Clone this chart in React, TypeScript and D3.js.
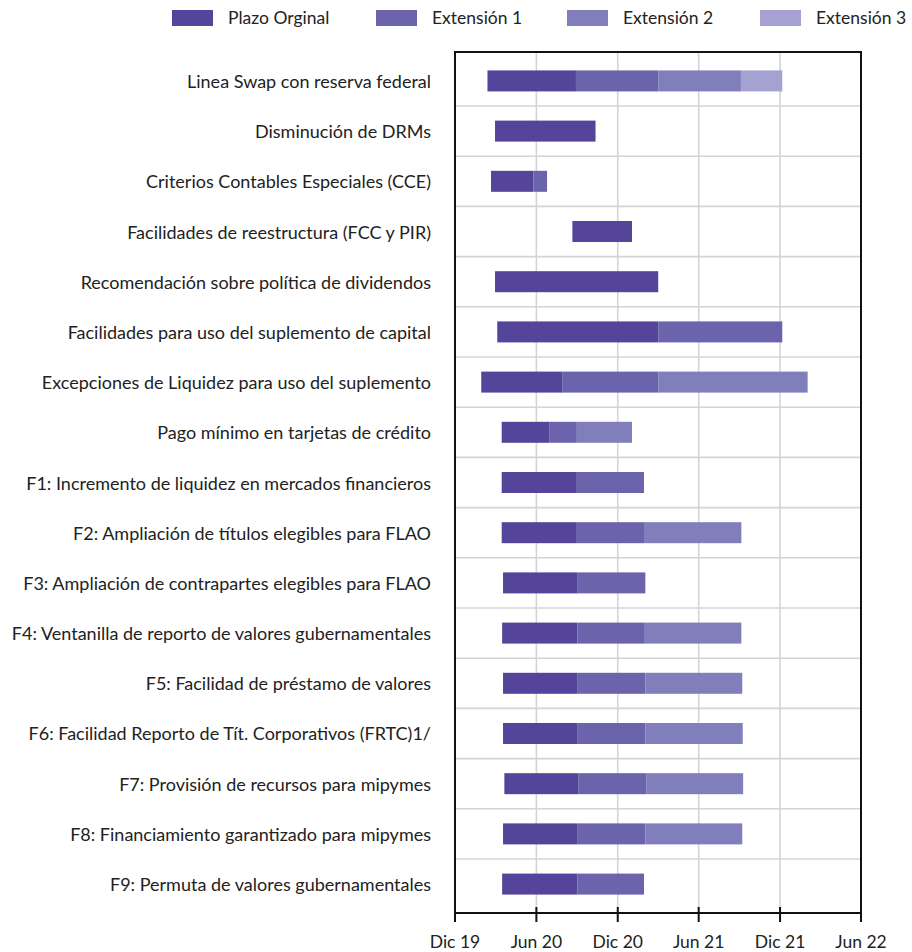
import React from "react";
import * as d3 from "d3";

const categories = [
  "Linea Swap con reserva federal",
  "Disminución de DRMs",
  "Criterios Contables Especiales (CCE)",
  "Facilidades de reestructura (FCC y PIR)",
  "Recomendación sobre política de dividendos",
  "Facilidades para uso del suplemento de capital",
  "Excepciones de Liquidez para uso del suplemento",
  "Pago mínimo en tarjetas de crédito",
  "F1: Incremento de liquidez en mercados financieros",
  "F2: Ampliación de títulos elegibles para FLAO",
  "F3: Ampliación de contrapartes elegibles para FLAO",
  "F4: Ventanilla de reporto de valores gubernamentales",
  "F5: Facilidad de préstamo de valores",
  "F6: Facilidad Reporto de Tít. Corporativos (FRTC)1/",
  "F7: Provisión de recursos para mipymes",
  "F8: Financiamiento garantizado para mipymes",
  "F9: Permuta de valores gubernamentales",
];

// inicio de cada medida
const startDates = [
  "2020-02-12", "2020-02-29", "2020-02-20", "2020-08-21", "2020-02-29",
  "2020-03-05", "2020-01-29", "2020-03-15", "2020-03-15", "2020-03-15",
  "2020-03-18", "2020-03-16", "2020-03-18", "2020-03-18", "2020-03-21",
  "2020-03-18", "2020-03-16",
];

// fin del plazo original
const originalEnd = [
  "2020-08-29", "2020-10-12", "2020-05-25", "2021-01-02", "2021-03-02",
  "2021-03-02", "2020-07-29", "2020-07-01", "2020-08-31", "2020-08-31",
  "2020-09-02", "2020-09-01", "2020-09-02", "2020-09-02", "2020-09-04",
  "2020-09-02", "2020-09-01",
];

// fin de cada extensión (null = sin extensión)
const ext1End = [
  "2021-03-02", null, "2020-06-25", null, null,
  "2021-12-06", "2021-03-02", "2020-08-31", "2021-01-29", "2021-01-29",
  "2021-02-01", "2021-01-29", "2021-02-01", "2021-02-01", "2021-02-03",
  "2021-02-01", "2021-01-29",
];

const ext2End = [
  "2021-09-04", null, null, null, null,
  null, "2022-02-01", "2021-01-02", null, "2021-09-05",
  null, "2021-09-05", "2021-09-07", "2021-09-08", "2021-09-09",
  "2021-09-07", null,
];

const ext3End = [
  "2021-12-06", null, null, null, null,
  null, null, null, null, null,
  null, null, null, null, null,
  null, null,
];

const seriesNames = ["Plazo Orginal", "Extensión 1", "Extensión 2", "Extensión 3"];
const seriesColors = ["#54459a", "#6b63ab", "#807ebb", "#a5a1d0"];

const tickDates = ["2019-12-01", "2020-06-01", "2020-12-01", "2021-06-01", "2021-12-01", "2022-06-01"];
const tickLabels = ["Dic 19", "Jun 20", "Dic 20", "Jun 21", "Dic 21", "Jun 22"];

const legendX = [172, 376, 567, 760];

const parse = d3.utcParse("%Y-%m-%d");
const FONT = "Lato, 'Open Sans', sans-serif";

export default function App() {
  const width = 912;
  const height = 952;
  const plot = { left: 455, right: 861, top: 52, bottom: 913 };

  const x = d3
    .scaleUtc()
    .domain([parse(tickDates[0])!, parse(tickDates[tickDates.length - 1])!])
    .range([plot.left, plot.right]);

  const y = d3
    .scaleBand()
    .domain(categories)
    .range([plot.top, plot.bottom])
    .paddingInner(0)
    .paddingOuter(0.076);

  const barH = 21;

  const segments = categories.flatMap((c, i) => {
    const bounds = [startDates[i], originalEnd[i], ext1End[i], ext2End[i], ext3End[i]];
    const out: { cat: string; s: number; x0: Date; x1: Date }[] = [];
    for (let s = 0; s < 4; s++) {
      const a = bounds[s];
      const b = bounds[s + 1];
      if (a && b) out.push({ cat: c, s, x0: parse(a)!, x1: parse(b)! });
    }
    return out;
  });

  return (
    <div style={{ position: "absolute", left: 0, top: 0 }}>
      <svg width={width} height={height} style={{ display: "block", background: "#fff" }} fontFamily={FONT}>
        {/* Legend */}
        {seriesNames.map((name, i) => (
          <g key={name} transform={`translate(${legendX[i]},10)`}>
            <rect width={41} height={16} fill={seriesColors[i]} />
            <text x={56} y={14} fontSize={17.5} fill="#222">
              {name}
            </text>
          </g>
        ))}

        {/* Grid */}
        {tickDates.slice(1, -1).map((t) => (
          <line
            key={t}
            x1={x(parse(t)!)}
            x2={x(parse(t)!)}
            y1={plot.top}
            y2={plot.bottom}
            stroke="#d4d4d4"
            strokeWidth={1.6}
          />
        ))}
        {categories.slice(1).map((c) => (
          <line
            key={c}
            x1={plot.left}
            x2={plot.right}
            y1={y(c)!}
            y2={y(c)!}
            stroke="#d4d4d4"
            strokeWidth={1.6}
          />
        ))}

        {/* Bars */}
        {segments.map((d, k) => (
          <rect
            key={k}
            x={x(d.x0)}
            width={x(d.x1) - x(d.x0)}
            y={y(d.cat)! + y.bandwidth() / 2 - barH / 2}
            height={barH}
            fill={seriesColors[d.s]}
          />
        ))}

        {/* Frame */}
        <rect
          x={plot.left}
          y={plot.top}
          width={plot.right - plot.left}
          height={plot.bottom - plot.top}
          fill="none"
          stroke="#111"
          strokeWidth={2}
        />

        {/* Category labels */}
        {categories.map((c) => (
          <text
            key={c}
            x={431}
            y={y(c)! + y.bandwidth() / 2 + 7}
            textAnchor="end"
            fontSize={18}
            fill="#222"
          >
            {c}
          </text>
        ))}

        {/* X axis ticks */}
        {tickDates.map((t, i) => {
          const xx = x(parse(t)!);
          return (
            <g key={t}>
              <line x1={xx} x2={xx} y1={plot.bottom - 6} y2={plot.bottom + 9} stroke="#111" strokeWidth={2} />
              <text x={xx} y={948} textAnchor="middle" fontSize={17.5} fill="#222">
                {tickLabels[i]}
              </text>
            </g>
          );
        })}
      </svg>
    </div>
  );
}
